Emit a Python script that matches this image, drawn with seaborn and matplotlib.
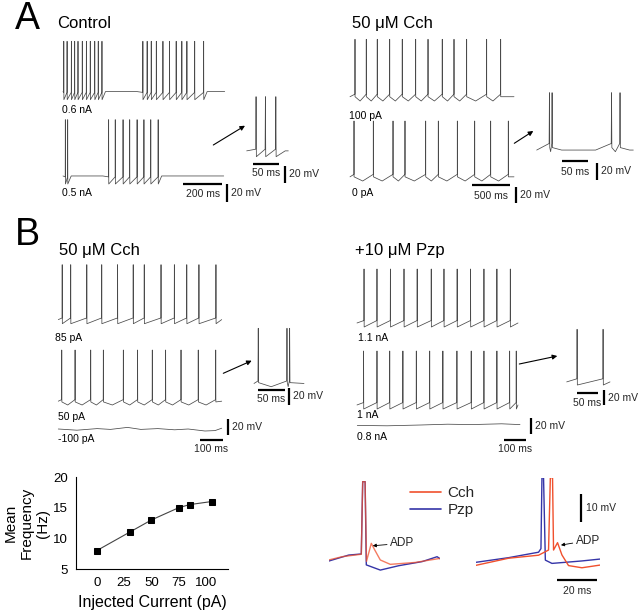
import matplotlib
matplotlib.use("Agg")
import matplotlib.pyplot as plt
from matplotlib.lines import Line2D
import pandas as pd
import seaborn as sns

# ---- values ----
# spike times (ms) of each recording
ctrl_06na_spikes = [4, 21, 43, 60, 77, 99, 120, 140, 163, 181, 200,
                    410, 432, 453, 479, 513, 547, 581, 610, 636, 676, 722]
ctrl_05na_spikes = [12, 24, 234, 268, 308, 342, 380, 415, 450, 488]
ctrl_inset_spikes = [18, 36, 56]
cch_100pa_spikes = [66, 215, 360, 524, 690, 867, 1030, 1218, 1373, 1540, 1804, 1989]
cch_0pa_spikes = [53, 308, 568, 726, 999, 1166, 1417, 1646, 1857, 2090]
cch_a_inset_spikes = [24, 29, 141, 157]
cch_85pa_spikes = [17, 54, 124, 189, 258, 326, 374, 447, 505, 559, 612, 686]
cch_50pa_spikes = [15, 73, 141, 196, 283, 345, 409, 467, 534, 609, 685]
cch_b_inset_spikes = [8, 62, 67]
pzp_11na_spikes = [32, 91, 152, 214, 274, 338, 396, 456, 517, 578, 637, 698]
pzp_1na_spikes = [30, 91, 149, 209, 270, 331, 391, 455, 520, 578, 637, 695, 725]
pzp_inset_spikes = [24, 84]

# sub-threshold sweeps (ms, mV relative)
cch_m100pa_t = [0, 81, 169, 227, 301, 359, 433, 506, 565, 638, 682, 711]
cch_m100pa_mv = [0, -1.2, 0.4, -0.4, 1.6, -0.4, 0.4, -0.8, 0, -2.0, -1.6, 0.8]
pzp_08na_t = [0, 134, 286, 407, 513, 650, 733]
pzp_08na_mv = [-0.4, -0.8, 0, 0.8, 0.4, 1.2, 0.4]

# single spikes, Cch vs Pzp (ms, mV relative to baseline)
cch_left_t = [0, 6.7, 16.3, 17.0, 18.2, 18.9, 21.3, 23.0, 25.8, 30.8, 43.3, 55.8]
cch_left_mv = [0, 1.2, 2.1, 28.7, 28.7, -0.5, 6.1, 3.7, 0, -1.6, -0.9, 0.6]
pzp_left_t = [0, 10, 16.3, 17.0, 18.2, 18.8, 25.8, 35, 46.7, 54.2, 55.8]
pzp_left_mv = [-0.4, 1.8, 2.2, 28.7, 28.7, -1.8, -3.7, -2.1, -0.6, 1.2, 0.4]
cch_right_t = [0, 16.3, 31.3, 36.3, 37.2, 38.3, 38.8, 40.8, 43.0, 46.3, 53.0, 62.2]
cch_right_mv = [-1.1, 1.5, 2.6, 4.5, 31, 31, 4.5, 7.2, 2.7, -1.2, -2.0, -1.0]
pzp_right_t = [0, 16.3, 31.3, 32.5, 33.0, 33.8, 34.7, 38.0, 44.7, 53.0, 62.2]
pzp_right_mv = [0, 1.7, 3.7, 5.0, 31, 31, 0.8, -0.4, 0, 0.5, 1.2]

# frequency-current relation
current_pa = [0, 30, 50, 75, 85, 105]
mean_freq_hz = [8, 11, 13, 15, 15.5, 16]

# ---- style ----
sns.set_theme(style="white")
plt.rcParams["font.family"] = ["Liberation Sans", "DejaVu Sans"]

W, H = 640, 612
TRACE = "#4a4a4a"
RED = "#f0502d"
BLUE = "#3535a8"

fig = plt.figure(figsize=(W / 100, H / 100), dpi=100)
fig.patch.set_facecolor("white")

lay = fig.add_axes([0, 0, 1, 1], zorder=0)
lay.set_xlim(0, W)
lay.set_ylim(H, 0)
lay.axis("off")


def px_axes(box):
    x0, y0, x1, y1 = box
    return fig.add_axes([x0 / W, 1 - y1 / H, (x1 - x0) / W, (y1 - y0) / H], zorder=2)


def spike_trace(spikes, dur, rest, max_isi, thr, ahp, peak=10.0, w=1.2, post=None):
    # piecewise trace through the read spike times; with `post` the
    # interval dips to `ahp` part way instead of a plain sawtooth
    settle, ramp = 0.3 * max_isi, 0.5 * max_isi
    t, v = [0.0], [rest]
    prev = None
    for s in spikes:
        if prev is None:
            if s > ramp:
                t.append(s - ramp)
                v.append(rest)
        elif s - prev > max_isi:
            t += [prev + settle, s - ramp]
            v += [rest, rest]
        elif post is not None:
            t.append(prev + 0.45 * (s - prev))
            v.append(ahp)
        t += [s - w / 2, s, s + w / 2]
        v += [thr, peak, ahp if post is None else post]
        prev = s
    if dur - prev > settle:
        t.append(prev + settle)
        v.append(rest)
    t.append(dur)
    v.append(rest)
    return t, v


def draw(box, t, v, dur, ylim=(-62, 10), color=TRACE, lw=0.55):
    ax = px_axes(box)
    ax.plot(t, v, color=color, lw=lw, clip_on=False)
    ax.set_xlim(0, dur)
    ax.set_ylim(*ylim)
    ax.axis("off")
    return ax


def to_data(ax, x, y):
    disp = fig.transFigure.transform((x / W, 1 - y / H))
    return ax.transData.inverted().transform(disp)


def hbar(ax, x, y, ms, text, dy=10):
    t0, v0 = to_data(ax, x, y)
    ax.plot([t0, t0 + ms], [v0, v0], color="black", lw=1.6, clip_on=False,
            solid_capstyle="butt")
    ax.annotate(text, xy=(t0 + ms / 2, v0), xytext=(0, -dy * 0.72),
                textcoords="offset points", ha="center", va="center",
                fontsize=7.5, annotation_clip=False)


def vbar(ax, x, y, mv, text, dx=4):
    t0, v0 = to_data(ax, x, y)
    ax.plot([t0, t0], [v0, v0 - mv], color="black", lw=1.6, clip_on=False,
            solid_capstyle="butt")
    ax.annotate(text, xy=(t0, v0 - mv / 2), xytext=(dx * 0.72, 0),
                textcoords="offset points", ha="left", va="center",
                fontsize=7.5, annotation_clip=False)


def arrow(x0, y0, x1, y1):
    lay.annotate("", xy=(x1, y1), xytext=(x0, y0),
                 arrowprops=dict(arrowstyle="-|>", color="black", lw=0.8,
                                 mutation_scale=7, shrinkA=0, shrinkB=0))


# ---- panel A ----
t, v = spike_trace(ctrl_06na_spikes, 830, -52, 60, -53, -62)
draw((63, 41.3, 224.7, 99.7), t, v, 830)
t, v = spike_trace(ctrl_05na_spikes, 824, -53, 60, -54, -62)
ax_cb = draw((63, 119.7, 223.7, 184), t, v, 824)
hbar(ax_cb, 183.3, 184, 200, "200 ms")
vbar(ax_cb, 227, 184, 20, "20 mV")
t, v = spike_trace(ctrl_inset_spikes, 80, -55, 60, -53, -62)
ax_ci = draw((246.7, 96.7, 288.3, 156.7), t, v, 80)
hbar(ax_ci, 253.3, 164, 50, "50 ms", dy=9.5)
vbar(ax_ci, 285, 166, 20, "20 mV")
arrow(213.3, 145, 245, 125.7)

t, v = spike_trace(cch_100pa_spikes, 2165, -57, 1000, -54, -62, post=-57)
draw((350, 39.3, 514, 101), t, v, 2165)
t, v = spike_trace(cch_0pa_spikes, 2165, -57, 1000, -54, -62, post=-57)
ax_ab = draw((350, 121, 514, 181), t, v, 2165)
hbar(ax_ab, 471.7, 185.3, 500, "500 ms", dy=11)
vbar(ax_ab, 515.7, 186.7, 20, "20 mV")
t, v = spike_trace(cch_a_inset_spikes, 182, -60, 60, -52, -62, post=-57)
ax_ai = draw((536.7, 92.7, 633.3, 151.7), t, v, 182)
hbar(ax_ai, 561.7, 161, 50, "50 ms", dy=10.5)
vbar(ax_ai, 596.7, 163.3, 20, "20 mV")
arrow(514.3, 143.3, 533.3, 131)

# ---- panel B ----
t, v = spike_trace(cch_85pa_spikes, 711, -57, 1000, -55, -62)
draw((58.3, 264.7, 221.7, 323.7), t, v, 711)
t, v = spike_trace(cch_50pa_spikes, 711, -57, 1000, -55, -62, post=-58)
ax_bb = draw((58.3, 350, 221.7, 405), t, v, 711)
draw((58.3, 423, 221.7, 435), cch_m100pa_t, cch_m100pa_mv, 711, ylim=(-6, 6))
vbar(ax_bb, 228.3, 419.3, 20, "20 mV")
hbar(ax_bb, 200, 440, 100, "100 ms", dy=9.5)
t, v = spike_trace(cch_b_inset_spikes, 94, -58, 100, -55, -62, post=-57)
ax_bi = draw((254, 328.3, 304, 386.7), t, v, 94)
hbar(ax_bi, 258.3, 390, 50, "50 ms", dy=8.5)
vbar(ax_bi, 289.3, 388.3, 20, "20 mV")
arrow(223.3, 373.3, 251.7, 360.7)

t, v = spike_trace(pzp_11na_spikes, 733, -57, 1000, -54, -62)
draw((357, 269, 518, 327), t, v, 733)
t, v = spike_trace(pzp_1na_spikes, 733, -57, 1000, -54, -62)
ax_pb = draw((357, 351, 518, 409), t, v, 733)
draw((357.3, 419, 520, 431), pzp_08na_t, pzp_08na_mv, 733, ylim=(-6, 6))
vbar(ax_pb, 530.7, 418.3, 20, "20 mV")
hbar(ax_pb, 504.3, 440, 100, "100 ms", dy=9.5)
t, v = spike_trace(pzp_inset_spikes, 100, -58, 100, -54, -62)
ax_pi = draw((566.7, 329.3, 610, 385), t, v, 100)
hbar(ax_pi, 576.7, 393.3, 50, "50 ms", dy=9.5)
vbar(ax_pi, 604, 390, 20, "20 mV")
arrow(519.3, 364, 557.3, 356)

# ---- Cch vs Pzp single spikes ----
ax_l = px_axes((328.7, 480.8, 440.3, 570.9))
ax_l.plot(pzp_left_t, pzp_left_mv, color=BLUE, lw=1.0)
ax_l.plot(cch_left_t, cch_left_mv, color=RED, lw=1.0, alpha=0.75)
ax_l.set_xlim(0, 55.8)
ax_l.set_ylim(-4, 29)
ax_l.axis("off")
ax_l.annotate("ADP", xy=(22, 5.2), xytext=(390.3, 543.3), textcoords=lay.transData,
              ha="left", va="center", fontsize=8.5,
              arrowprops=dict(arrowstyle="-|>", color="black", lw=0.6,
                              mutation_scale=5, shrinkA=0, shrinkB=0))

ax_r = px_axes((476, 477.7, 600.3, 570.5))
ax_r.plot(pzp_right_t, pzp_right_mv, color=BLUE, lw=1.0)
ax_r.plot(cch_right_t, cch_right_mv, color=RED, lw=1.0)
ax_r.set_xlim(0, 62.2)
ax_r.set_ylim(-3, 31)
ax_r.axis("off")
ax_r.annotate("ADP", xy=(42.5, 6.3), xytext=(576, 540.5), textcoords=lay.transData,
              ha="left", va="center", fontsize=8.5,
              arrowprops=dict(arrowstyle="-|>", color="black", lw=0.6,
                              mutation_scale=5, shrinkA=0, shrinkB=0))
vbar(ax_r, 581.3, 494.3, 10, "10 mV", dx=5)
hbar(ax_r, 557, 580, 20, "20 ms", dy=10.5)

handles = [Line2D([], [], color=RED, lw=1.2), Line2D([], [], color=BLUE, lw=1.2)]
fig.legend(handles, ["Cch", "Pzp"], loc="upper left",
           bbox_to_anchor=(410 / W, 1 - 486 / H), frameon=False, fontsize=11,
           handlelength=2.0, handletextpad=0.45, labelspacing=0.2,
           borderpad=0, borderaxespad=0)

# ---- frequency vs injected current ----
axf = px_axes((76, 477, 228, 569))
df = pd.DataFrame({"current": current_pa, "freq": mean_freq_hz})
sns.lineplot(data=df, x="current", y="freq", ax=axf, color="#444444", lw=0.8,
             marker="s", markersize=5, markerfacecolor="black",
             markeredgecolor="black")
axf.set_xlim(-19, 120)
axf.set_ylim(5, 20)
axf.set_xticks([0, 25, 50, 75, 100])
axf.set_yticks([5, 10, 15, 20])
axf.tick_params(length=0, labelsize=9.5, pad=6, colors="black")
for side in ["top", "right"]:
    axf.spines[side].set_visible(False)
for side in ["left", "bottom"]:
    axf.spines[side].set_color("black")
    axf.spines[side].set_linewidth(0.8)
axf.set_xlabel("Injected Current (pA)", fontsize=11.5, labelpad=4, color="black")
axf.set_ylabel("Mean\nFrequency\n(Hz)", fontsize=11, color="black", linespacing=1.2)
axf.yaxis.set_label_coords(-0.17, 0.5)

# ---- panel letters, titles, sweep labels ----
texts = [
    ("A", 15, 19, 27), ("B", 15, 235, 27),
    ("Control", 57, 24, 12), ("50 \u03bcM Cch", 351.5, 23.5, 12),
    ("50 \u03bcM Cch", 59, 251, 12), ("+10 \u03bcM Pzp", 355, 250, 12),
    ("0.6 nA", 62.5, 110, 7.5), ("0.5 nA", 62.5, 192.7, 7.5),
    ("100 pA", 349, 116, 7.5), ("0 pA", 352.5, 192.7, 7.5),
    ("85 pA", 55, 338, 7.5), ("50 pA", 58, 416.7, 7.5), ("-100 pA", 58, 439.3, 7.5),
    ("1.1 nA", 358, 337.7, 7.5), ("1 nA", 357, 415, 7.5), ("0.8 nA", 357, 436.7, 7.5),
]
for s, x, y, size in texts:
    lay.text(x, y, s, fontsize=size, ha="left", va="center", color="black")

fig.savefig("out.png", dpi=100, facecolor="white")
